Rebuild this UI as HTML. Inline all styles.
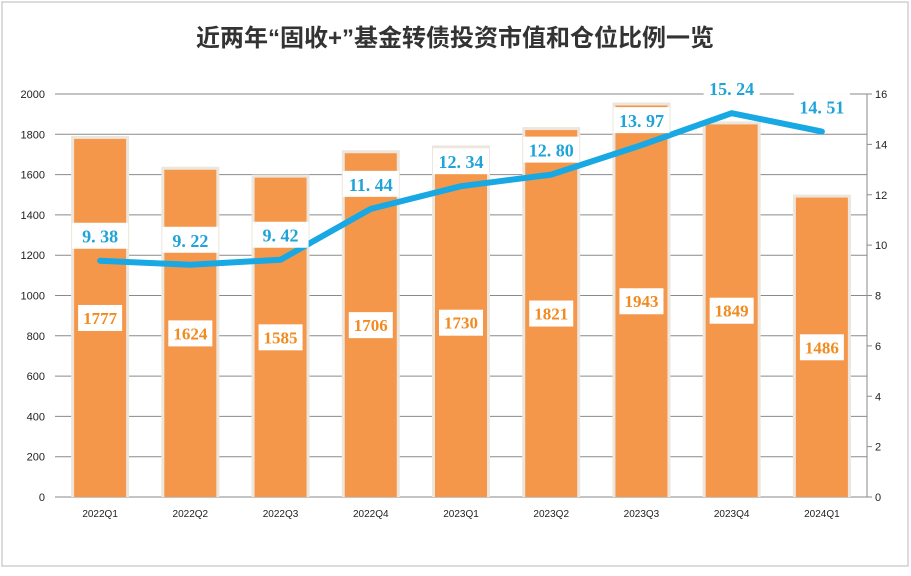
<!DOCTYPE html>
<html><head><meta charset="utf-8"><style>
body{margin:0;background:#fff;}
#wrap{position:relative;width:911px;height:576px;overflow:hidden;background:#fff;}
</style></head><body>
<div id="wrap">
<svg id="chart" width="911" height="576" xmlns="http://www.w3.org/2000/svg">
<rect x="2" y="2" width="906" height="564" fill="#fff" stroke="#d0d0d0" stroke-width="1.5"/>
<text x="455" y="46" text-anchor="middle" font-family="'Liberation Sans','Noto Sans CJK SC',sans-serif" font-size="24" font-weight="bold" fill="#333">近两年“固收+”基金转债投资市值和仓位比例一览</text>
<g id="grid"></g><g id="bars"></g><g id="line"></g><g id="labels"></g><g id="axes"></g>
</svg>
</div>
<script>
const categories=["2022Q1","2022Q2","2022Q3","2022Q4","2023Q1","2023Q2","2023Q3","2023Q4","2024Q1"];
const barValues=[1777,1624,1585,1706,1730,1821,1943,1849,1486];
const lineValues=[9.38,9.22,9.42,11.44,12.34,12.80,13.97,15.24,14.51];
const leftTicks=[0,200,400,600,800,1000,1200,1400,1600,1800,2000];
const rightTicks=[0,2,4,6,8,10,12,14,16];
const NS="http://www.w3.org/2000/svg";
const X0=55,X1=867,Y0=497,Y1=94;
const yL=v=>Y0-(v/2000)*(Y0-Y1);
const yR=v=>Y0-(v/16)*(Y0-Y1);
const band=(X1-X0)/categories.length;
const xC=i=>X0+band*(i+0.5);
function mk(tag,attrs,parent,text){const e=document.createElementNS(NS,tag);for(const k in attrs)e.setAttribute(k,attrs[k]);if(text!==undefined)e.textContent=text;parent.appendChild(e);return e;}
const grid=document.getElementById('grid'),bars=document.getElementById('bars'),line=document.getElementById('line'),labels=document.getElementById('labels'),axes=document.getElementById('axes');
const F="'Liberation Sans',sans-serif";
leftTicks.forEach(t=>{
  const l=mk('line',{x1:X0,x2:X1,y1:yL(t),y2:yL(t),stroke:'#8a8a8a','stroke-width':1},grid);
  
  
  const tx=mk('text',{x:45,y:yL(t)+4,'text-anchor':'end','font-family':F,'font-size':11,fill:'#222'},axes,String(t));
  
  
});
const ax=mk('line',{x1:X1,x2:X1,y1:Y1,y2:Y0,stroke:'#8a8a8a','stroke-width':1},axes);


rightTicks.forEach(t=>{
  mk('line',{x1:X1,x2:X1+5,y1:yR(t),y2:yR(t),stroke:'#8a8a8a'},axes);
  const tx=mk('text',{x:875,y:yR(t)+4,'font-family':F,'font-size':11,fill:'#222'},axes,String(t));
  
  
});
const BW=52;
categories.forEach((c,i)=>{
  const x=xC(i)-BW/2,y=yL(barValues[i]);
  const sh=mk('rect',{x:x-3,y:y-3,width:BW+6,height:Y0-y+3,fill:'#ece6dc'},bars);
  
  
  const r=mk('rect',{x:x,y:y,width:BW,height:Y0-y,fill:'#f5974a'},bars);
  
  
  const cy=(y+Y0)/2;
  const bx=mk('rect',{x:xC(i)-22,y:cy-13,width:44,height:26,fill:'#fff'},labels);
  
  
  const t=mk('text',{x:xC(i),y:cy+6,'text-anchor':'middle','font-family':"'Liberation Serif',serif",'font-size':17,'font-weight':'bold',fill:'#f28a1f'},labels,String(barValues[i]));
  
  
  const ct=mk('text',{x:xC(i),y:517,'text-anchor':'middle','font-family':F,'font-size':10,fill:'#222'},axes,c);
  
  
});
const pts=lineValues.map((v,i)=>xC(i)+','+yR(v)).join(' ');
const pl=mk('polyline',{points:pts,fill:'none',stroke:'#18a8e3','stroke-width':6,'stroke-linejoin':'round','stroke-linecap':'round'},line);


lineValues.forEach((v,i)=>{
  const y=yR(v)-24;
  const s=v.toFixed(2).replace('.','. ');
  const bx=mk('rect',{x:xC(i)-28,y:y-14,width:56,height:26,fill:'#fff'},labels);
  
  
  const t=mk('text',{x:xC(i),y:y+6,'text-anchor':'middle','font-family':"'Liberation Serif',serif",'font-size':18,'font-weight':'bold',fill:'#1fa3d8'},labels,s);
  
  
});
</script>
</body></html>
